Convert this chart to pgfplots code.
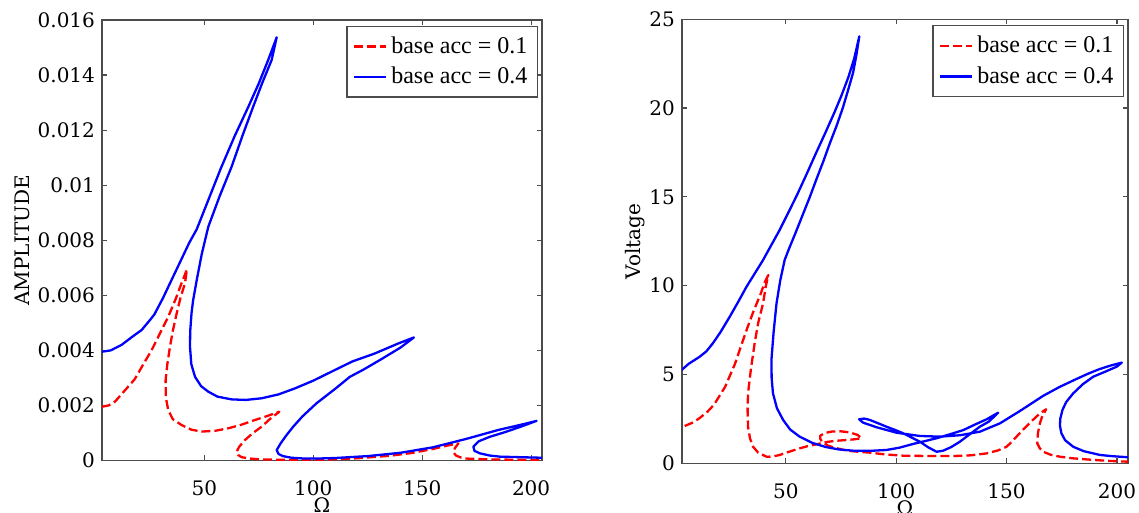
\documentclass[border=0pt]{standalone}
\usepackage{fontspec}
\setmainfont{DejaVu Serif}
\newfontfamily\legfont{Liberation Serif}
\usepackage{pgfplots}
\pgfplotsset{compat=1.18}
\definecolor{axgray}{gray}{0.3}
\pgfplotsset{
  fr/.style={
    scale only axis,
    tick align=inside, tick pos=both,
    major tick length=2.5pt,
    axis line style={axgray, line width=0.6pt},
    every tick/.style={axgray, line width=0.6pt},
    tick label style={font=\fontsize{10}{12}\selectfont},
    /pgf/number format/assume math mode=true,
    scaled y ticks=false,
    xtick={50,100,150,200},
    xmin=3, xmax=205,
    xticklabel style={yshift=-6.5pt},
    label style={font=\fontsize{10}{12}\selectfont},
    xlabel={Ω},
    xlabel style={at={(axis description cs:0.5,0)}, anchor=north, inner sep=0pt, yshift=-18.5pt},
    legend style={at={(1,1)}, anchor=north east, xshift=-2pt, yshift=-3pt,
      draw=axgray, line width=0.6pt, font=\legfont\fontsize{12}{14}\selectfont,
      inner xsep=3pt, inner ysep=3pt, row sep=1.5pt, cells={anchor=west}},
    legend image code/.code={\draw[#1] (0pt,0pt) -- (16pt,0pt);},
  },
  redc/.style={red, line width=1.15pt, dash pattern=on 4.5pt off 2pt, line join=round},
  bluec/.style={blue, line width=1.15pt, line join=round},
}

\begin{document}
\begin{tikzpicture}
% left: amplitude
\begin{axis}[fr,
  at={(0pt,0pt)}, anchor=south west,
  width=220pt, height=220.25pt,
  ymin=0, ymax=0.016,
  ytick={0,0.002,0.004,0.006,0.008,0.01,0.012,0.014,0.016},
  yticklabels={0,0.002,0.004,0.006,0.008,0.01,0.012,0.014,0.016},
  ylabel={AMPLITUDE},
  ylabel style={at={(axis description cs:-0.182,0.5)}, anchor=center},
]
\addplot[redc] coordinates {
 (2.9,0.00195) (6,0.002) (9,0.00214) (13,0.0025) (18,0.00295) (22,0.0035) (25.8,0.00401)
 (29.5,0.0046) (33.4,0.00522) (37,0.0059) (39.5,0.00644) (42,0.00694)
 (41.1,0.00644) (39,0.0059) (37.3,0.00535) (35.5,0.0047) (34.2,0.00413) (33,0.0035)
 (32.2,0.00292) (32.3,0.0023) (33.4,0.00183) (35.5,0.0015) (39.5,0.00129) (44,0.00112)
 (48.7,0.00105) (55,0.00108) (61,0.00117) (67,0.0013) (73.2,0.00147) (79,0.00162) (84.4,0.00177)
 (80,0.0015) (76.3,0.00123) (72,0.00098) (68.6,0.00074) (66,0.0005) (64.8,0.00032)
 (65.5,0.0002) (67.1,0.00012) (71,0.00007) (76.3,0.00004) (90,0.00002) (105,0.00003)
 (120,0.00008) (135,0.00017) (145,0.00027) (155,0.00042) (162,0.00055) (166.6,0.00062)
 (165,0.00045) (164.3,0.0003) (165.5,0.00018) (168,0.0001) (170.4,0.00007) (180,0.00004)
 (190,0.00003) (205,0.00002)
};
\addlegendentry{base acc = 0.1}
\addplot[bluec] coordinates {
 (2.9,0.00395) (7,0.004) (12,0.0042) (17,0.0045) (21.2,0.00474) (25,0.0051) (27,0.0053)
 (29,0.0056) (31,0.0059) (33.5,0.00632) (37,0.0069) (40,0.0074) (43,0.0079) (46.5,0.0084)
 (52,0.0095) (57.5,0.0106) (64,0.0118) (70.2,0.01285) (75,0.0137) (79.3,0.01455) (83.2,0.01537)
 (80.9,0.01455) (76.5,0.0137) (72.4,0.01285) (67.5,0.0118) (62.5,0.01067) (57,0.0096)
 (51.8,0.00849) (48.8,0.0075) (46.5,0.00656) (44.8,0.0058) (44.1,0.00535) (43.5,0.0047)
 (43.4,0.00413) (44,0.0035) (45.7,0.00304) (48.5,0.0027) (51.8,0.0025) (56,0.00232)
 (62.5,0.00222) (69,0.0022) (76.3,0.00226) (84,0.0024) (91.6,0.00262) (100,0.0029)
 (110,0.00329) (118,0.0036) (128,0.00388) (139,0.00425) (146.2,0.00447)
 (140,0.0041) (130.6,0.00365) (123,0.0033) (116.8,0.00304) (110,0.0026) (101.5,0.00208)
 (95,0.0016) (90.8,0.00123) (87.5,0.0009) (85,0.00062) (83.2,0.00038) (84,0.00024)
 (86,0.00016) (90,0.0001) (96,0.00007) (101.5,0.00007) (110,0.00009) (125,0.00016)
 (140,0.00028) (155,0.00048) (170,0.00078) (185,0.00111) (197,0.00133) (202.5,0.00144)
 (195,0.00122) (188,0.00103) (181,0.00086) (176,0.0007) (173.5,0.0005) (174,0.00035)
 (176.5,0.00026) (181,0.00018) (185.7,0.00014) (195,0.00012) (205,0.0001)
};
\addlegendentry{base acc = 0.4}
\end{axis}
% right: voltage
\begin{axis}[fr,
  at={(290pt,-1.4pt)}, anchor=south west,
  width=223pt, height=222pt,
  ymin=0, ymax=25,
  ytick={0,5,10,15,20,25},
  ylabel={Voltage},
  ylabel style={at={(axis description cs:-0.105,0.5)}, anchor=center},
]
\addplot[redc] coordinates {
 (4.2,2.1) (8,2.3) (11,2.55) (14.5,2.9) (17.5,3.3) (20,3.8) (22.5,4.3) (27,5.6) (30,6.7)
 (32.5,7.6) (35.5,8.6) (38.5,9.5) (40.5,10.2) (42.1,10.6)
 (41,10) (39.7,9.0) (37.5,7.9) (35.9,6.76) (34.2,5.3) (32.9,3.94) (32.7,3.0) (32.9,2.06)
 (33.8,1.4) (35.2,0.93) (37.5,0.6) (41.3,0.37) (44,0.38) (47.3,0.47) (51,0.63) (56.3,0.84)
 (60,0.97) (63.9,1.07) (68.4,1.2) (73,1.27) (77.5,1.31) (81,1.35) (84.3,1.41)
 (82.5,1.6) (79,1.74) (75,1.8) (71,1.79) (67.5,1.7) (65.6,1.55) (65.6,1.38) (66.5,1.2)
 (69,1.0) (72,0.88) (76,0.76) (80,0.68) (88,0.6) (95,0.5) (103,0.43) (115,0.41) (126,0.41)
 (134,0.45) (141,0.56) (146,0.72) (150,0.93) (153,1.3) (157.5,1.9) (162,2.45) (165,2.8) (167.9,3.04)
 (166,2.6) (165.1,2.25) (164.2,1.7) (163.9,1.13) (165,0.85) (166.6,0.65) (170,0.48)
 (174.2,0.37) (180,0.28) (189.3,0.19) (197,0.13) (205,0.09)
};
\addlegendentry{base acc = 0.1}
\addplot[bluec] coordinates {
 (2.8,5.25) (6,5.6) (11,6.0) (14,6.3) (17,6.76) (20.5,7.4) (24.6,8.25) (28.5,9.1) (32.2,9.94)
 (36,10.7) (39.5,11.4) (43.5,12.3) (47.2,13.13) (51.5,14.2) (55.4,15.19) (59.5,16.3)
 (63.6,17.44) (67.7,18.55) (71.8,19.69) (75.2,20.7) (78.4,21.76) (81,22.8) (83.3,24.04)
 (82,23) (80.5,22) (78.2,21) (75.8,20) (73,19) (69.9,18) (67,17) (63.9,16) (60.9,15)
 (57.7,14) (54.5,13) (51.2,12) (49.5,11.45) (47.5,10.3) (45.8,9.0)
 (44.5,7.4) (43.5,5.82) (43.6,4.8) (44.2,3.94) (46,3.1) (48.8,2.44) (52,1.9) (56.3,1.5)
 (62,1.15) (68,0.92) (74,0.78) (80.5,0.71) (88,0.7) (95.6,0.75) (101.5,0.88) (107.7,1.09)
 (113,1.25) (118.3,1.41) (124,1.62) (130.4,1.87) (136,2.2) (141,2.48) (146.2,2.85)
 (142,2.35) (137.9,2.06) (133.5,1.65) (128.9,1.22) (125,0.92) (121.3,0.71) (118.3,0.65)
 (114.5,0.9) (110.7,1.22) (107,1.45) (103.2,1.69) (99.5,1.88) (95.6,2.06) (91.5,2.27)
 (88.1,2.44) (85.5,2.52) (83.2,2.48) (85,2.29) (91.1,2.03) (100.2,1.72) (110.7,1.54)
 (119.8,1.5) (128.9,1.58) (137.9,1.78) (147,2.25) (156.1,2.95) (166.6,3.8) (174,4.3)
 (181.7,4.75) (187,5.05) (192,5.3) (197,5.5) (202.2,5.67)
 (199.9,5.44) (194.5,5.15) (189.3,4.88) (184.5,4.45) (180.2,3.94) (177,3.45) (175.3,3.0)
 (174.3,2.5) (174.2,2.1) (174.8,1.7) (176.5,1.3) (180.2,0.93) (185,0.68) (192.3,0.47)
 (198,0.4) (205,0.34)
};
\addlegendentry{base acc = 0.4}
\end{axis}
\pgfresetboundingbox
\path (-51pt,-26.25pt) rectangle (518.5pt,230.25pt);
\end{tikzpicture}
\end{document}
